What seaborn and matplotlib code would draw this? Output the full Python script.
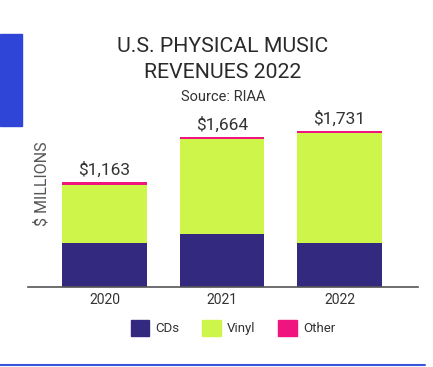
import matplotlib
matplotlib.use("Agg")
import matplotlib.pyplot as plt
import matplotlib.patches as mpatches
import seaborn as sns
import pandas as pd
import numpy as np

years = ["2020", "2021", "2022"]
cds = [483, 584, 483]
vinyl = [650, 1050, 1223]
other = [30, 30, 25]
total_labels = ["$1,163", "$1,664", "$1,731"]
series_names = ["CDs", "Vinyl", "Other"]
colors = {"CDs": "#332a80", "Vinyl": "#cdf54a", "Other": "#f0157e"}

sns.set_theme(style="white")
plt.rcParams['font.family'] = ['Roboto', 'DejaVu Sans']

df = pd.DataFrame({"year": years, "CDs": cds, "Vinyl": vinyl, "Other": other})
df["cum_cd"] = df["CDs"]
df["cum_vinyl"] = df["CDs"] + df["Vinyl"]
df["cum_other"] = df["cum_vinyl"] + df["Other"]

fig = plt.figure(figsize=(4.33, 3.67), dpi=100)
ax = fig.add_axes([28/433, 1-287/367, 390/433, 167/367])

w = 0.72
for col, name in [("cum_other", "Other"), ("cum_vinyl", "Vinyl"), ("cum_cd", "CDs")]:
    sns.barplot(data=df, x="year", y=col, color=colors[name], width=w,
                saturation=1, ax=ax, linewidth=0)

ax.set_xlim(-0.651, 2.668)
ax.set_ylim(0, 1849)
for i, lab in enumerate(total_labels):
    ax.text(i, df["cum_other"][i] + 45, lab, ha="center", va="bottom",
            fontsize=12.5, color="#333333")

for s in ["top", "right", "left"]:
    ax.spines[s].set_visible(False)
ax.spines["bottom"].set_color("#555555")
ax.spines["bottom"].set_linewidth(1.2)
ax.set_yticks([])
ax.set_xlabel("")
ax.set_ylabel("$ MILLIONS", fontsize=11.5, color="#555555")
ax.yaxis.set_label_coords(22/390, 0.62)
ax.tick_params(axis="x", length=0, labelsize=10, colors="#333333", pad=4)

fig.text(223/433, 1-47/367, "U.S. PHYSICAL MUSIC", ha="center", va="center",
         fontsize=15.3, color="#2a2a2a")
fig.text(223/433, 1-73/367, "REVENUES 2022", ha="center", va="center",
         fontsize=15.3, color="#2a2a2a")
fig.text(223/433, 1-97/367, "Source: RIAA", ha="center", va="center",
         fontsize=10.5, color="#333333")

handles = [mpatches.Patch(color=colors[n], label=n) for n in series_names]
fig.legend(handles=handles, loc="center", bbox_to_anchor=(233/433, 1-328/367),
           ncol=3, frameon=False, fontsize=9.5, handlelength=1.4, handleheight=1.4,
           columnspacing=1.7, handletextpad=0.5, labelcolor="#333333")

# decorative blue elements
fig.patches.append(mpatches.Rectangle((0, 1-126/367), 22/433, 92/367,
                                      transform=fig.transFigure, color="#2f45d8"))
fig.lines.append(plt.Line2D([0, 425/433], [1-365/367, 1-365/367],
                            transform=fig.transFigure, color="#3a55e0", linewidth=1.5))

fig.savefig("out.png", dpi=100)
